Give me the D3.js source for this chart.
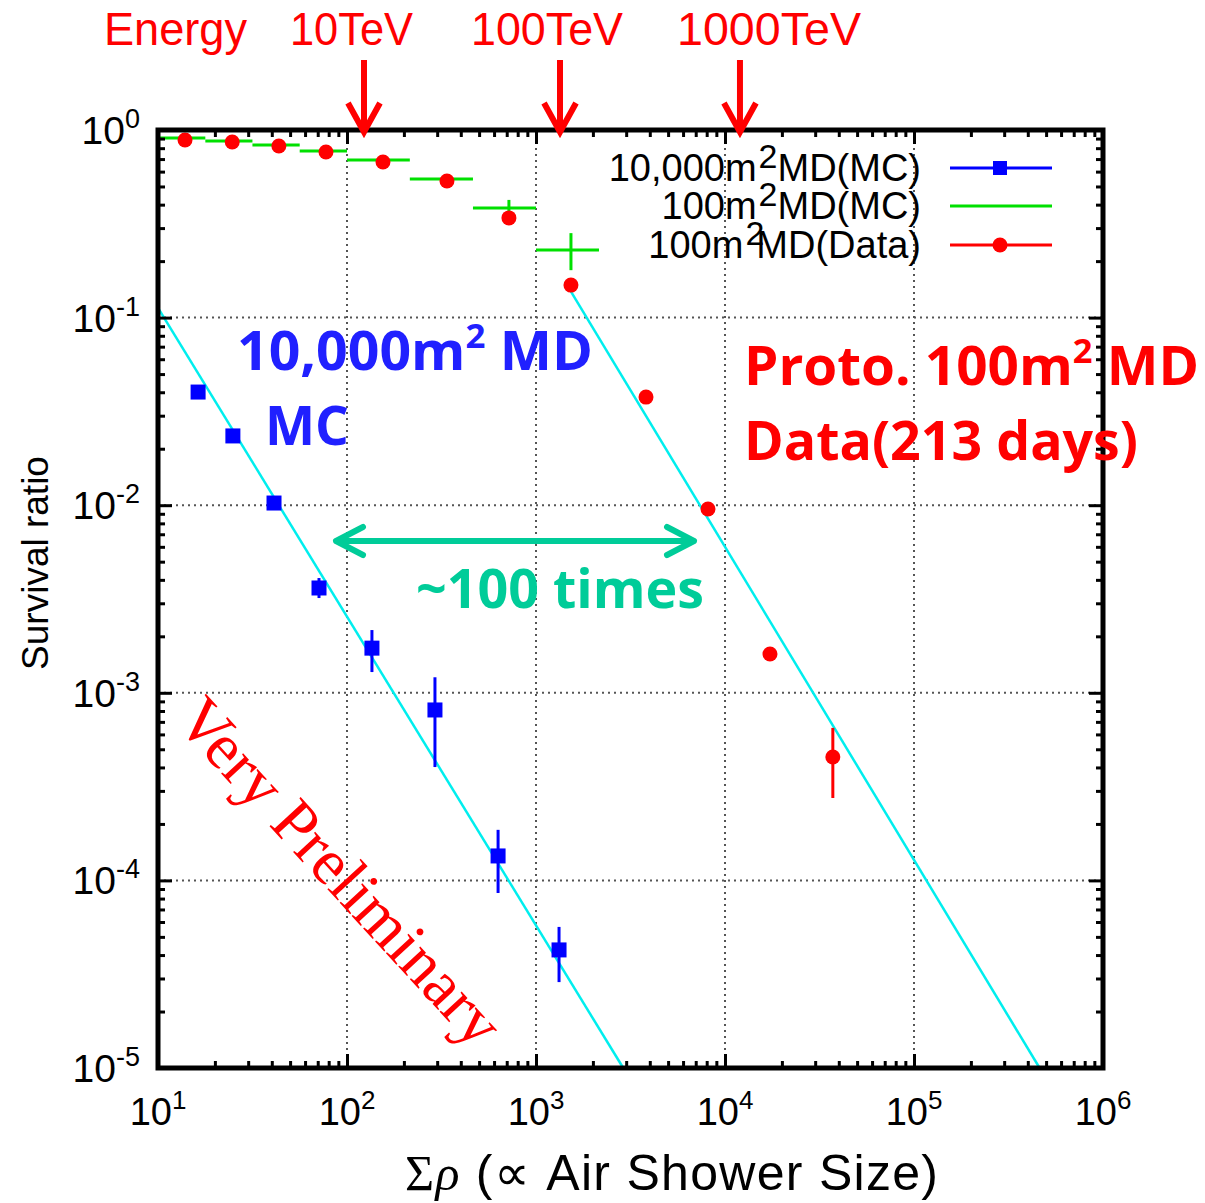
<!DOCTYPE html>
<html>
<head>
<meta charset="utf-8">
<script src="https://d3js.org/d3.v7.min.js"></script>
<style>
body { margin: 0; background: #fff; }
</style>
</head>
<body>
<div id="chart"></div>
<script>

// 10,000m2 MD (MC) : blue squares
var md10kX     = [16.3, 24.9, 41.1, 71.1, 135.5, 292, 630, 1324];
var md10kY     = [0.0401, 0.0234, 0.01027, 0.00362, 0.00173, 0.00081, 0.000135, 0.0000426];
var md10kErrLo = [0.0401, 0.0234, 0.01027, 0.0032, 0.00129, 0.000402, 0.0000857, 0.0000287];
var md10kErrHi = [0.0401, 0.0234, 0.01027, 0.00409, 0.00216, 0.00121, 0.000186, 0.0000565];

// 100m2 MD (MC) : green bins
var md100mcX     = [13.9, 24.7, 43.6, 77.4, 155, 338, 719, 1531];
var md100mcLo    = [10, 17.8, 31.6, 56.2, 100, 215, 464, 1000];
var md100mcHi    = [17.8, 31.6, 56.2, 100, 215, 464, 1000, 2154];
var md100mcY     = [0.906, 0.874, 0.832, 0.773, 0.692, 0.548, 0.384, 0.229];
var md100mcErrLo = [0.906, 0.874, 0.832, 0.773, 0.692, 0.548, 0.352, 0.179];
var md100mcErrHi = [0.906, 0.874, 0.832, 0.773, 0.692, 0.548, 0.424, 0.282];

// 100m2 MD (Data) : red dots
var md100dX     = [13.9, 24.7, 43.6, 77.4, 155, 338, 719, 1531, 3820, 8128, 17300, 37200];
var md100dY     = [0.885, 0.863, 0.822, 0.764, 0.675, 0.535, 0.340, 0.149, 0.0377, 0.00955, 0.00161, 0.000455];
var md100dErrLo = [0.885, 0.863, 0.822, 0.764, 0.675, 0.535, 0.340, 0.149, 0.0377, 0.00955, 0.00150, 0.000275];
var md100dErrHi = [0.885, 0.863, 0.822, 0.764, 0.675, 0.535, 0.340, 0.149, 0.0377, 0.00955, 0.00161, 0.00065];

// power-law fits (cyan): value at pivot, index, start
var fitPivot = [10, 10000];
var fitNorm  = [0.1127, 0.0060];
var fitIndex = [-1.646, -1.669];
var fitStart = [10, 1460];

// energy markers on top
var energyLabels = ["10TeV", "100TeV", "1000TeV"];
var energySumRho = [123, 1340, 12000];

var xTickExps = [1, 2, 3, 4, 5, 6];
var yTickExps = [0, -1, -2, -3, -4, -5];

var legendLabels = [
  ["10,000m", "2", "MD(MC)"],
  ["100m", "2", "MD(MC)"],
  ["100m", "2", "MD(Data)"]
];

var margin = {top: 130, right: 102, bottom: 135, left: 158},
    width = 1205 - margin.left - margin.right,
    height = 1203 - margin.top - margin.bottom;

var svg = d3.select("#chart")
  .append("svg")
    .attr("width", 1205)
    .attr("height", 1203)
    .style("font-family", "'Liberation Sans', Arial, sans-serif");

svg.append("rect").attr("width", 1205).attr("height", 1203).attr("fill", "#fff");

var g = svg.append("g")
    .attr("transform", "translate(" + margin.left + "," + margin.top + ")");

var x = d3.scaleLog().domain([10, 1e6]).range([0, width]);
var y = d3.scaleLog().domain([1e-5, 1]).range([height, 0]);

var majorX = xTickExps.map(function(e) { return Math.pow(10, e); });
var majorY = yTickExps.map(function(e) { return Math.pow(10, e); });
var minorX = [], minorY = [];
for (var d = 1; d < 6; d++) for (var k = 2; k < 10; k++) minorX.push(k * Math.pow(10, d));
for (var d = -5; d < 0; d++) for (var k = 2; k < 10; k++) minorY.push(k * Math.pow(10, d));

// grid
g.selectAll(".gx").data(majorX.slice(1, -1)).enter().append("line")
  .attr("x1", function(d) { return x(d); }).attr("x2", function(d) { return x(d); })
  .attr("y1", 0).attr("y2", height)
  .attr("stroke", "#555").attr("stroke-width", 2).attr("stroke-dasharray", "2,4");
g.selectAll(".gy").data(majorY.slice(1, -1)).enter().append("line")
  .attr("y1", function(d) { return y(d); }).attr("y2", function(d) { return y(d); })
  .attr("x1", 0).attr("x2", width)
  .attr("stroke", "#555").attr("stroke-width", 2).attr("stroke-dasharray", "2,4");

// fit lines
var fitLine = d3.line().x(function(p) { return x(p[0]); }).y(function(p) { return y(p[1]); });
fitNorm.forEach(function(n, i) {
  var law = function(v) { return n * Math.pow(v / fitPivot[i], fitIndex[i]); };
  var xEnd = fitPivot[i] * Math.pow(1e-5 / n, 1 / fitIndex[i]);
  g.append("path")
    .attr("d", fitLine([[fitStart[i], law(fitStart[i])], [xEnd, 1e-5]]))
    .attr("fill", "none").attr("stroke", "#00eeee").attr("stroke-width", 2.5);
});

// green MC bins
var green = "#00e000";
md100mcX.forEach(function(v, i) {
  g.append("line")
    .attr("x1", x(md100mcLo[i])).attr("x2", x(md100mcHi[i]))
    .attr("y1", y(md100mcY[i])).attr("y2", y(md100mcY[i]))
    .attr("stroke", green).attr("stroke-width", 3);
  if (md100mcErrHi[i] > md100mcErrLo[i]) {
    g.append("line")
      .attr("x1", x(v)).attr("x2", x(v))
      .attr("y1", y(md100mcErrLo[i])).attr("y2", y(md100mcErrHi[i]))
      .attr("stroke", green).attr("stroke-width", 3);
  }
});

// blue squares
g.selectAll(".be").data(md10kX).enter().append("line")
  .attr("x1", function(d) { return x(d); }).attr("x2", function(d) { return x(d); })
  .attr("y1", function(d, i) { return y(md10kErrLo[i]); })
  .attr("y2", function(d, i) { return y(md10kErrHi[i]); })
  .attr("stroke", "#0000ff").attr("stroke-width", 3);
g.selectAll(".bs").data(md10kX).enter().append("rect")
  .attr("x", function(d) { return x(d) - 7.5; })
  .attr("y", function(d, i) { return y(md10kY[i]) - 7.5; })
  .attr("width", 15).attr("height", 15)
  .attr("fill", "#0000ff");

// red dots
g.selectAll(".re").data(md100dX).enter().append("line")
  .attr("x1", function(d) { return x(d); }).attr("x2", function(d) { return x(d); })
  .attr("y1", function(d, i) { return y(md100dErrLo[i]); })
  .attr("y2", function(d, i) { return y(md100dErrHi[i]); })
  .attr("stroke", "#ff0000").attr("stroke-width", 3);
g.selectAll(".rd").data(md100dX).enter().append("circle")
  .attr("cx", function(d) { return x(d); })
  .attr("cy", function(d, i) { return y(md100dY[i]); })
  .attr("r", 7.5)
  .attr("fill", "#ff0000");

// frame and ticks
function ticks(axis, tr) {
  var a = g.append("g").attr("transform", tr).call(axis);
  a.select(".domain").remove();
  a.selectAll(".tick line").attr("stroke", "#000").attr("stroke-width", 3);
}
var big = 14, small = 7;
ticks(d3.axisBottom(x).tickValues(majorX).tickSize(-big).tickFormat(""), "translate(0," + height + ")");
ticks(d3.axisBottom(x).tickValues(minorX).tickSize(-small).tickFormat(""), "translate(0," + height + ")");
ticks(d3.axisTop(x).tickValues(majorX).tickSize(-big).tickFormat(""), "translate(0,0)");
ticks(d3.axisTop(x).tickValues(minorX).tickSize(-small).tickFormat(""), "translate(0,0)");
ticks(d3.axisLeft(y).tickValues(majorY).tickSize(-big).tickFormat(""), "translate(0,0)");
ticks(d3.axisLeft(y).tickValues(minorY).tickSize(-small).tickFormat(""), "translate(0,0)");
ticks(d3.axisRight(y).tickValues(majorY).tickSize(-big).tickFormat(""), "translate(" + width + ",0)");
ticks(d3.axisRight(y).tickValues(minorY).tickSize(-small).tickFormat(""), "translate(" + width + ",0)");

g.append("rect").attr("width", width).attr("height", height)
  .attr("fill", "none").attr("stroke", "#000").attr("stroke-width", 5);

// tick labels
var xl = g.selectAll(".xl").data(xTickExps).enter().append("text")
  .attr("x", function(d) { return x(Math.pow(10, d)); })
  .attr("y", height + 57)
  .attr("text-anchor", "middle")
  .style("font-size", "38px");
xl.append("tspan").text("10");
xl.append("tspan").attr("dy", -16).style("font-size", "26px").text(function(d) { return d; });

var yl = g.selectAll(".yl").data(yTickExps).enter().append("text")
  .attr("x", -18)
  .attr("y", function(d) { return y(Math.pow(10, d)) + 14; })
  .attr("text-anchor", "end")
  .style("font-size", "39px");
yl.append("tspan").text("10");
yl.append("tspan").attr("dy", -16).style("font-size", "27px").text(function(d) { return d; });

// axis titles
svg.append("text")
  .attr("transform", "translate(48,563) rotate(-90)")
  .attr("text-anchor", "middle")
  .style("font-size", "37px")
  .text("Survival ratio");

var xt = svg.append("text")
  .attr("x", 405).attr("y", 1190)
  .attr("textLength", 533)
  .style("font-size", "50px");
xt.append("tspan").style("font-family", "'Liberation Serif', serif").text("\u03A3");
xt.append("tspan").style("font-family", "'Liberation Serif', serif").style("font-style", "italic").text("\u03C1");
xt.append("tspan").text(" (");
xt.append("tspan").style("font-family", "'Liberation Serif', serif").text("\u221D");
xt.append("tspan").text(" Air Shower Size)");

// legend
var legendColors = ["#0000ff", green, "#ff0000"];
var legendBase = [181, 219, 258];
var legendAfterSup = [0, 0, -8];
legendLabels.forEach(function(lab, i) {
  var t = svg.append("text")
    .attr("x", 921).attr("y", legendBase[i])
    .attr("text-anchor", "end")
    .style("font-size", "38px");
  t.append("tspan").text(lab[0]);
  t.append("tspan").attr("dy", -13).attr("dx", 2).style("font-size", "34px").text(lab[1]);
  t.append("tspan").attr("dy", 13).attr("dx", legendAfterSup[i]).text(lab[2]);
  var ly = legendBase[i] - 13;
  svg.append("line").attr("x1", 950).attr("x2", 1052).attr("y1", ly).attr("y2", ly)
    .attr("stroke", legendColors[i]).attr("stroke-width", 3);
});
svg.append("rect").attr("x", 993).attr("y", 168 - 7).attr("width", 14).attr("height", 14).attr("fill", "#0000ff");
svg.append("circle").attr("cx", 1000).attr("cy", 245).attr("r", 7.5).attr("fill", "#ff0000");

// energy markers
svg.append("text").attr("x", 104).attr("y", 45)
  .attr("textLength", 143).attr("lengthAdjust", "spacingAndGlyphs")
  .attr("fill", "#ff0000").style("font-size", "46px").text("Energy");
var energyTextX = [290, 471, 677], energyTextW = [123, 152, 184];
energyLabels.forEach(function(lab, i) {
  svg.append("text").attr("x", energyTextX[i]).attr("y", 45)
    .attr("textLength", energyTextW[i]).attr("lengthAdjust", "spacingAndGlyphs")
    .attr("fill", "#ff0000").style("font-size", "46px").text(lab);
  var ax = margin.left + x(energySumRho[i]);
  svg.append("line").attr("x1", ax).attr("x2", ax).attr("y1", 60).attr("y2", 128)
    .attr("stroke", "#ff0000").attr("stroke-width", 6);
  svg.append("path")
    .attr("d", "M" + (ax - 16) + ",103L" + ax + ",132L" + (ax + 16) + ",103")
    .attr("fill", "none").attr("stroke", "#ff0000").attr("stroke-width", 6);
});

// annotations
function boldText(tx, ty, w, color, parts) {
  var t = svg.append("text").attr("x", tx).attr("y", ty)
    .attr("textLength", w).attr("lengthAdjust", "spacingAndGlyphs")
    .attr("fill", color)
    .style("font-family", "'Open Sans', sans-serif").style("font-weight", 700)
    .style("font-size", "54px");
  parts.forEach(function(p) {
    var s = t.append("tspan").text(p[0]);
    if (p[1]) s.attr("dy", p[1]);
    if (p[2]) s.style("font-size", p[2]);
  });
}
boldText(237, 370, 356, "#2020ff", [["10,000m"], ["2", -22, "34px"], [" MD", 22]]);
boldText(265, 445, 84, "#2020ff", [["MC"]]);
boldText(744, 385, 455, "#ff0000", [["Proto. 100m"], ["2", -22, "34px"], [" MD", 22]]);
boldText(744, 460, 394, "#ff0000", [["Data(213 days)"]]);
boldText(416, 608, 288, "#00cc99", [["~100 times"]]);

// double arrow
var teal = "#00cc99";
svg.append("line").attr("x1", 337).attr("x2", 693).attr("y1", 541).attr("y2", 541)
  .attr("stroke", teal).attr("stroke-width", 6).attr("stroke-linecap", "round");
svg.append("path").attr("d", "M363,527L336,541L363,555")
  .attr("fill", "none").attr("stroke", teal).attr("stroke-width", 6)
  .attr("stroke-linecap", "round").attr("stroke-linejoin", "round");
svg.append("path").attr("d", "M667,527L694,541L667,555")
  .attr("fill", "none").attr("stroke", teal).attr("stroke-width", 6)
  .attr("stroke-linecap", "round").attr("stroke-linejoin", "round");

svg.append("text")
  .attr("transform", "translate(174,722) rotate(47.5)")
  .attr("fill", "#ff0000")
  .style("font-family", "'Liberation Serif', 'Times New Roman', serif")
  .style("font-size", "65px")
  .text("Very Preliminary");

</script>
</body>
</html>
